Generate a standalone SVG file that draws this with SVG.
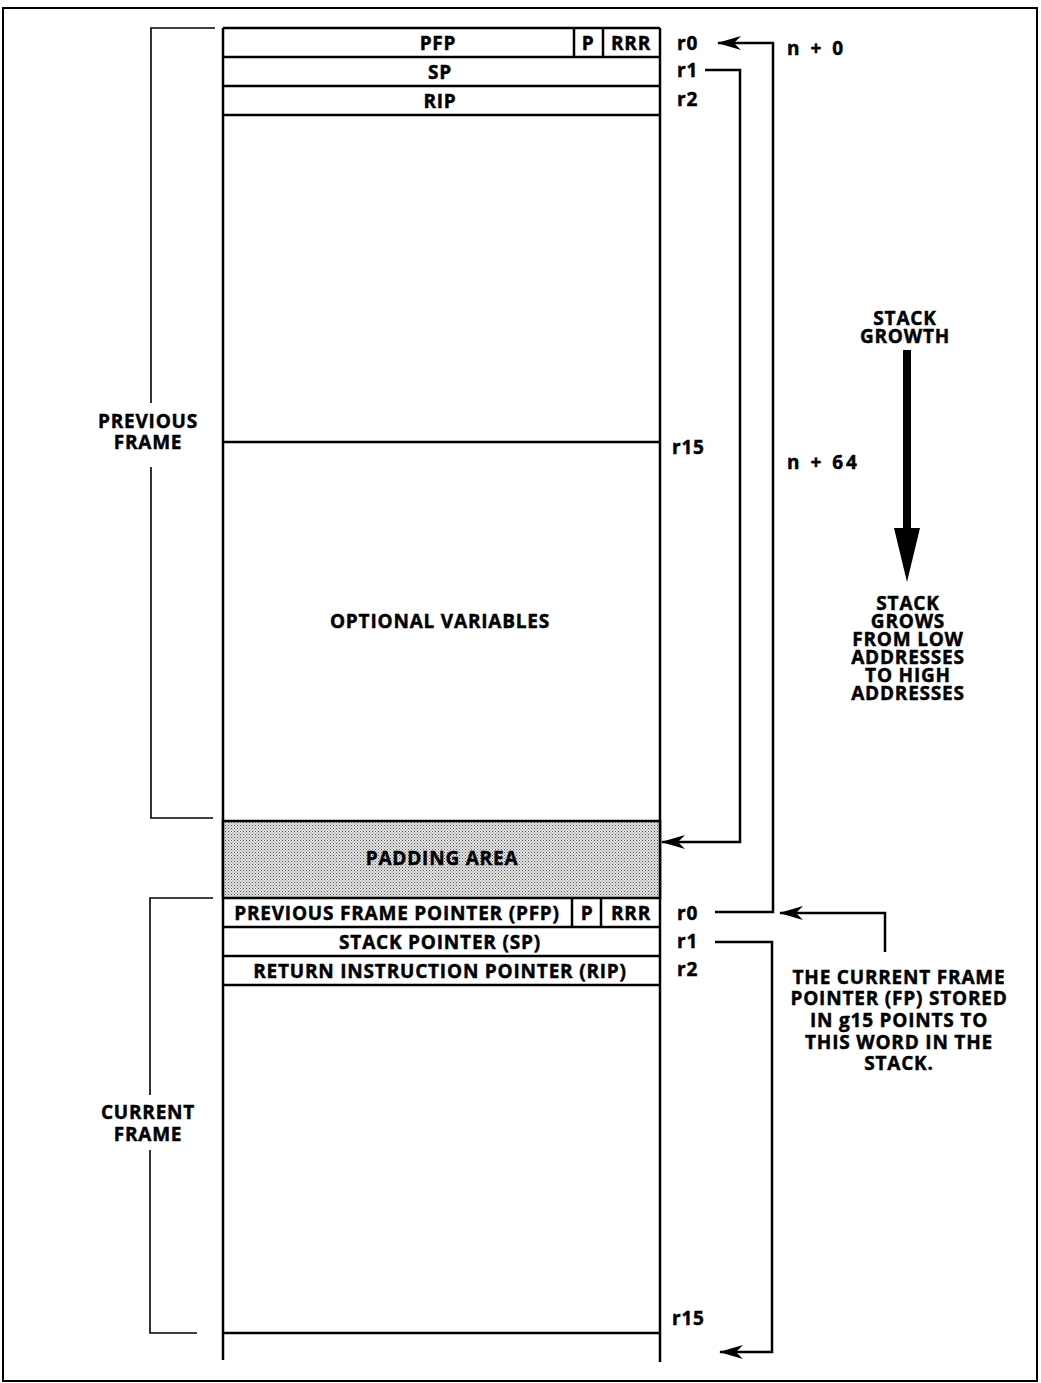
<svg xmlns="http://www.w3.org/2000/svg" width="1041" height="1383" viewBox="0 0 1041 1383">
<style>
text{font-family:"Open Sans","Liberation Sans",sans-serif;font-weight:700;font-size:19px;fill:#000;stroke:#000;stroke-width:0.45px;letter-spacing:0.8px}
.c{text-anchor:middle}
.s{fill:none;stroke:#000;stroke-width:2.5}
.b{fill:none;stroke:#000;stroke-width:1.6}
.cn{fill:none;stroke:#000;stroke-width:2.5;marker-end:url(#arr)}
</style>
<defs>
<marker id="arr" viewBox="0 0 24 14" refX="23" refY="7" markerWidth="24" markerHeight="14" markerUnits="userSpaceOnUse" orient="auto">
<path d="M24,7 L0,0 L7,7 L0,14 Z" fill="#000"/>
</marker>
<pattern id="dots" width="3" height="3" patternUnits="userSpaceOnUse">
<rect width="3" height="3" fill="#e4e4e4"/>
<rect width="1" height="1" fill="#555"/>
<rect x="1.5" y="1.5" width="1" height="1" fill="#777"/>
</pattern>
</defs>
<rect x="3" y="8" width="1034" height="1373" fill="#fff" stroke="#000" stroke-width="2"/>

<g id="stack">
<path class="s" d="M223,28 V1360 M660,28 V1362 M223,28 H660"/>
</g>

<g id="prev-pfp">
<path class="s" d="M223,57 H660 M574,28 V57 M603,28 V57"/>
<text class="c" x="438" y="50">PFP</text>
<text class="c" x="588" y="50">P</text>
<text class="c" x="631" y="50">RRR</text>
</g>
<g id="prev-sp">
<path class="s" d="M223,86 H660"/>
<text class="c" x="440" y="79">SP</text>
</g>
<g id="prev-rip">
<path class="s" d="M223,115 H660"/>
<text class="c" x="440" y="108">RIP</text>
</g>
<g id="prev-r15">
<path class="s" d="M223,442 H660"/>
</g>
<g id="optional">
<text class="c" x="440" y="628">OPTIONAL VARIABLES</text>
</g>
<g id="padding">
<rect x="223" y="821" width="437" height="77" fill="url(#dots)" stroke="#000" stroke-width="2.5"/>
<text class="c" x="442" y="865">PADDING AREA</text>
</g>
<g id="cur-pfp">
<path class="s" d="M223,927 H660 M572,898 V927 M601,898 V927"/>
<text class="c" x="397" y="920">PREVIOUS FRAME POINTER (PFP)</text>
<text class="c" x="587" y="920">P</text>
<text class="c" x="631" y="920">RRR</text>
</g>
<g id="cur-sp">
<path class="s" d="M223,956 H660"/>
<text class="c" x="440" y="949">STACK POINTER (SP)</text>
</g>
<g id="cur-rip">
<path class="s" d="M223,985 H660"/>
<text class="c" x="440" y="978">RETURN INSTRUCTION POINTER (RIP)</text>
</g>
<g id="cur-r15">
<path class="s" d="M223,1333 H660"/>
</g>

<g id="registers">
<text x="677" y="50">r0</text>
<text x="677" y="77">r1</text>
<text x="677" y="106">r2</text>
<text x="672" y="454">r15</text>
<text x="677" y="920">r0</text>
<text x="677" y="948">r1</text>
<text x="677" y="976">r2</text>
<text x="672" y="1325">r15</text>
</g>

<g id="offsets">
<text x="787" y="55" style="letter-spacing:3px">n + 0</text>
<text x="787" y="469" style="letter-spacing:3px">n + 64</text>
</g>

<g id="prev-frame-bracket">
<path class="b" d="M215,28 H151 V403 M151,467 V818 H213"/>
<text class="c" x="148" y="428">PREVIOUS</text>
<text class="c" x="148" y="449">FRAME</text>
</g>
<g id="cur-frame-bracket">
<path class="b" d="M213,898 H150 V1095 M150,1150 V1333 H197"/>
<text class="c" x="148" y="1119">CURRENT</text>
<text class="c" x="148" y="1141">FRAME</text>
</g>

<g id="growth">
<text class="c" x="905" y="325">STACK</text>
<text class="c" x="905" y="343">GROWTH</text>
<rect x="903" y="350" width="8" height="182" fill="#000"/>
<polygon points="894,528 920,528 907,582" fill="#000"/>
<text class="c" x="908" y="610">STACK</text>
<text class="c" x="908" y="628">GROWS</text>
<text class="c" x="908" y="646">FROM LOW</text>
<text class="c" x="908" y="664">ADDRESSES</text>
<text class="c" x="908" y="682">TO HIGH</text>
<text class="c" x="908" y="700">ADDRESSES</text>
</g>

<g id="fp-note">
<text class="c" x="899" y="984">THE CURRENT FRAME</text>
<text class="c" x="899" y="1005">POINTER (FP) STORED</text>
<text class="c" x="899" y="1027">IN g15 POINTS TO</text>
<text class="c" x="899" y="1049">THIS WORD IN THE</text>
<text class="c" x="899" y="1070">STACK.</text>
</g>

<g id="connectors">
<polyline class="cn" points="715,912 773,912 773,43 718,43"/>
<polyline class="cn" points="705,70 740,70 740,842 662,842"/>
<polyline class="cn" points="715,942 772,942 772,1352 720,1352"/>
<polyline class="cn" points="885,952 885,913 780,913"/>
</g>
</svg>
